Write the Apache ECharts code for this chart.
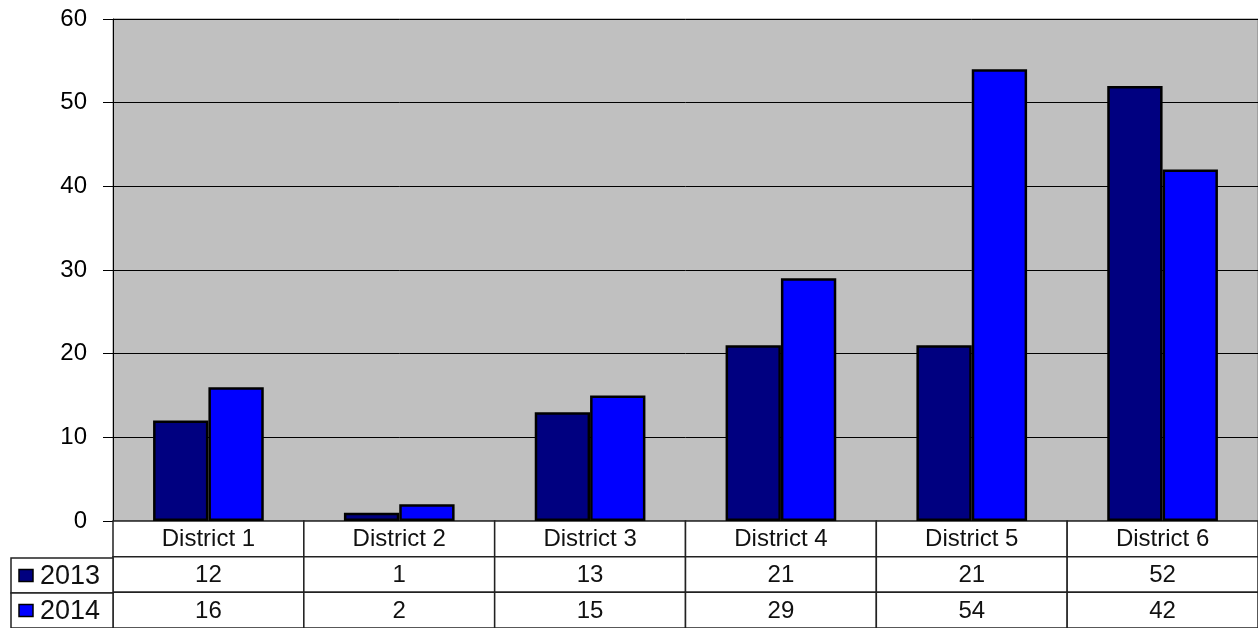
<!DOCTYPE html>
<html>
<head>
<meta charset="utf-8">
<script src="https://cdn.jsdelivr.net/npm/echarts@6/dist/echarts.min.js"></script>
<style>
  html, body { margin: 0; padding: 0; background: #fff; }
  #chart { width: 1258px; height: 628px; }
</style>
</head>
<body>
<div id="chart"></div>
<script>
const districts = ['District 1', 'District 2', 'District 3', 'District 4', 'District 5', 'District 6']
const years = ['2013', '2014']
const values2013 = [12, 1, 13, 21, 21, 52]
const values2014 = [16, 2, 15, 29, 54, 42]
const yTicks = [0, 10, 20, 30, 40, 50, 60]

const COLORS = ['#000080', '#0000FF']
const FONT = '"Liberation Sans", Arial, sans-serif'

// table cells: [column, row, text]  row 0 = district names
const tableCells = []
districts.forEach((d, i) => {
  tableCells.push([i, 0, d])
  tableCells.push([i, 1, String(values2013[i])])
  tableCells.push([i, 2, String(values2014[i])])
})
const legendCells = years.map((y, i) => [0, i, y])

const chart = echarts.init(document.getElementById('chart'))

const option = {
  animation: false,
  grid: [
    { left: 113, right: 0, top: 19, bottom: 107, show: true, backgroundColor: '#C0C0C0', borderColor: '#808080', borderWidth: 1 },
    { left: 113, right: 0, top: 521, height: 111 },
    { left: 11, width: 102, top: 558, height: 74 }
  ],
  xAxis: [
    { type: 'category', gridIndex: 0, data: districts, axisLine: { show: false }, axisTick: { show: false }, axisLabel: { show: false } },
    { type: 'category', gridIndex: 1, data: districts, show: false },
    { type: 'category', gridIndex: 2, data: ['legend'], show: false }
  ],
  yAxis: [
    {
      type: 'value',
      gridIndex: 0,
      min: yTicks[0],
      max: yTicks[yTicks.length - 1],
      interval: 10,
      axisLine: { show: true, lineStyle: { color: '#000', width: 1 } },
      axisTick: { show: true, length: 10, lineStyle: { color: '#000' } },
      axisLabel: { color: '#000', fontSize: 24, fontFamily: FONT, margin: 26 },
      splitLine: { show: true, lineStyle: { color: '#000', width: 1 } }
    },
    { type: 'category', gridIndex: 1, data: ['', '2013', '2014'], inverse: true, show: false },
    { type: 'category', gridIndex: 2, data: years, inverse: true, show: false }
  ],
  series: [
    {
      name: '2013',
      type: 'bar',
      data: values2013,
      barGap: '0%',
      barCategoryGap: '42%',
      itemStyle: { color: COLORS[0], borderColor: '#000', borderWidth: 2.5 }
    },
    {
      name: '2014',
      type: 'bar',
      data: values2014,
      barGap: '0%',
      barCategoryGap: '42%',
      itemStyle: { color: COLORS[1], borderColor: '#000', borderWidth: 2.5 }
    },
    {
      type: 'custom',
      xAxisIndex: 1,
      yAxisIndex: 1,
      data: tableCells,
      renderItem: function (params, api) {
        const c = api.coord([api.value(0), api.value(1)])
        const s = api.size([1, 1])
        return {
          type: 'group',
          children: [
            {
              type: 'rect',
              shape: { x: c[0] - s[0] / 2, y: c[1] - s[1] / 2, width: s[0], height: s[1] },
              style: { fill: '#fff', stroke: '#222', lineWidth: 1.5 }
            },
            {
              type: 'text',
              x: c[0],
              y: c[1] + 1,
              style: {
                text: tableCells[params.dataIndex][2],
                fill: '#111',
                font: '24px ' + FONT,
                align: 'center',
                verticalAlign: 'middle'
              }
            }
          ]
        }
      }
    },
    {
      type: 'custom',
      xAxisIndex: 2,
      yAxisIndex: 2,
      data: legendCells,
      renderItem: function (params, api) {
        const c = api.coord([api.value(0), api.value(1)])
        const s = api.size([1, 1])
        const left = c[0] - s[0] / 2
        return {
          type: 'group',
          children: [
            {
              type: 'rect',
              shape: { x: left, y: c[1] - s[1] / 2, width: s[0], height: s[1] },
              style: { fill: '#fff', stroke: '#222', lineWidth: 1.5 }
            },
            {
              type: 'rect',
              shape: { x: left + 8, y: c[1] - 6, width: 14, height: 12 },
              style: { fill: COLORS[params.dataIndex], stroke: '#000', lineWidth: 1.5 }
            },
            {
              type: 'text',
              x: left + 29,
              y: c[1] + 1,
              style: {
                text: legendCells[params.dataIndex][2],
                fill: '#111',
                font: '27px ' + FONT,
                align: 'left',
                verticalAlign: 'middle'
              }
            }
          ]
        }
      }
    }
  ]
}

chart.setOption(option)
</script>
</body>
</html>
